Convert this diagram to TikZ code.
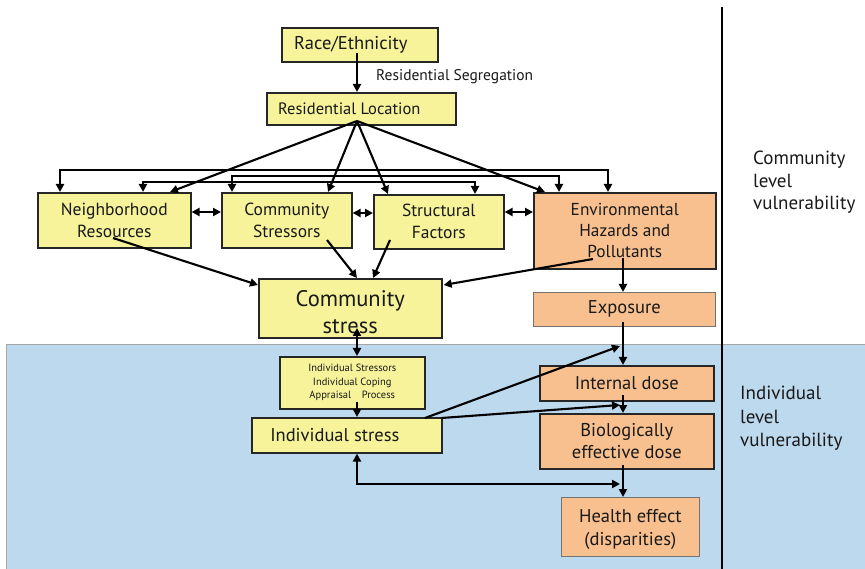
\documentclass[tikz,border=0pt]{standalone}
\usepackage{fontspec}
\setmainfont{PT Sans}
\usetikzlibrary{arrows.meta,calc}
\definecolor{ycol}{RGB}{247,243,154}
\definecolor{ocol}{RGB}{248,192,143}
\definecolor{bcol}{RGB}{189,217,238}
\definecolor{tcol}{RGB}{25,25,25}
\newcommand{\fs}[2]{\fontsize{#1}{#2}\selectfont}
\tikzset{
  box/.style={draw=black!85, line width=1.6pt, inner sep=0pt, align=center, anchor=north west, text=tcol},
  ybox/.style={box, fill=ycol},
  obox/.style={box, fill=ocol},
  othin/.style={box, fill=ocol, draw=black!55, line width=0.7pt},
  arr/.style={line width=2.1pt, -{Triangle[length=8pt,width=8pt]}},
  darr/.style={line width=2.1pt, {Triangle[length=8pt,width=8pt]}-{Triangle[length=8pt,width=8pt]}},
  lbl/.style={anchor=north west, align=left, inner sep=0pt, text=tcol},
  intext/.style={inner sep=0pt, align=center, text=tcol}
}
\begin{document}
\begin{tikzpicture}[x=1pt,y=-1pt]
\useasboundingbox (0,0) rectangle (865,569);
% background region
\fill[bcol] (6,345) rectangle (865,569);
\draw[black!35, line width=1pt] (6,569) -- (6,345) -- (865,345);
\draw[line width=1.6pt] (722,7) -- (722,569);

% boxes
\node[ybox, minimum width=156pt, minimum height=34pt, font=\fs{18.5}{22}] (race) at (281,27) {Race/Ethnicity\hspace{18pt}};
\node[lbl, font=\fs{15.5}{18}] (seg) at (376,69) {Residential Segregation};
\node[ybox, minimum width=189pt, minimum height=32pt, font=\fs{16.5}{20}] (resloc) at (266,92) {Residential Location\hspace{24pt}};
\node[ybox, minimum width=153pt, minimum height=55pt, font=\fs{17.5}{22}] (nbr) at (37,192) {Neighborhood\\Resources};
\node[ybox, minimum width=130pt, minimum height=55pt, font=\fs{17.5}{22}] (cstr) at (221,192) {Community\\Stressors};
\node[ybox, minimum width=130pt, minimum height=54pt, font=\fs{17.5}{22}] (sf) at (373,194) {Structural\\Factors};
\node[obox, minimum width=182pt, minimum height=76pt, font=\fs{17.3}{21}] (env) at (533,192) {Environmental\\Hazards and\\Pollutants};
\node[ybox, minimum width=183pt, minimum height=59pt] (cstress) at (258,278) {};
\node[intext, font=\fs{22.5}{27}] (cstresstext) at ($(cstress.center)+(0,4)$) {Community\\stress};
\node[othin, minimum width=182pt, minimum height=34pt, font=\fs{18.5}{22}] (expo) at (533,292) {Exposure};
\node[ybox, minimum width=145pt, minimum height=52pt, font=\fs{10.5}{13.5}] (indstr) at (279,356) {Individual Stressors\\Individual Coping\\Appraisal\quad Process};
\node[ybox, minimum width=190pt, minimum height=35pt, font=\fs{18.5}{22}] (indstress) at (251,417) {Individual stress\hspace{24pt}};
\node[obox, minimum width=174pt, minimum height=35pt, font=\fs{18.5}{22}] (intdose) at (539,365) {Internal dose};
\node[obox, minimum width=174pt, minimum height=55pt, font=\fs{18.5}{22}] (bio) at (539,413) {Biologically\\effective dose};
\node[othin, minimum width=138pt, minimum height=59pt] (health) at (561,497) {};
\node[intext, font=\fs{18.5}{23}] (healthtext) at ($(health.center)+(0,3)$) {Health effect\\(disparities)};

\node[lbl, font=\fs{19}{22.5}] (clab) at (753,151) {Community\\level\\vulnerability};
\node[lbl, font=\fs{19}{23.5}] (ilab) at (740,386) {Individual\\level\\vulnerability};

% connectors
\draw[arr] ($(race.north west)+(76,26)$) -- ($(resloc.north west)+(91,0)$);
\coordinate (hub) at ($(resloc.north west)+(91,29)$);
\draw[arr] (hub) -- ($(nbr.north west)+(133,0)$);
\draw[arr] (hub) -- ($(cstr.north west)+(107,0)$);
\draw[arr] (hub) -- ($(sf.north west)+(15,0)$);
\draw[arr] (hub) -- ($(env.north west)+(12,0)$);

\draw[darr] ($(nbr.north west)+(23,0)$) -- ++(0,-22) -| ($(env.north west)+(75,0)$);
\draw[darr] ($(cstr.north west)+(11,0)$) -- ++(0,-16) -| ($(env.north west)+(26,0)$);
\draw[darr] ($(nbr.north west)+(106,0)$) -- ++(0,-10) -| ($(sf.north west)+(102,0)$);

\draw[darr] ($(nbr.north east)+(0,20)$) -- ($(cstr.north west)+(0,20)$);
\draw[darr] ($(cstr.north east)+(0,21)$) -- ($(sf.north west)+(0,19)$);
\draw[darr] ($(sf.north east)+(0,18)$) -- ($(env.north west)+(0,20)$);

\draw[arr] ($(nbr.north west)+(76,46)$) -- ($(cstress.north west)+(0,7)$);
\draw[arr] ($(cstr.north west)+(106,48)$) -- ($(cstress.north west)+(99,0)$);
\draw[arr] ($(sf.north west)+(17,46)$) -- ($(cstress.north west)+(115,0)$);
\draw[arr] ($(env.north west)+(60,67)$) -- ($(cstress.north east)+(1,7)$);

\draw[arr] ($(env.north west)+(90,66)$) -- ($(expo.north west)+(90,0)$);
\draw[arr] ($(expo.north west)+(90,30)$) -- ($(intdose.north west)+(84,0)$);
\draw[arr] ($(intdose.north west)+(84,30)$) -- ($(bio.north west)+(84,0)$);
\draw[arr] ($(bio.north west)+(84,52)$) -- ($(health.north west)+(62,0)$);

\draw[darr] ($(cstress.north west)+(99,50)$) -- ($(indstr.north west)+(78,0)$);
\draw[arr] ($(indstr.north west)+(78,46)$) -- ($(indstress.north west)+(106,0)$);

\draw[arr] ($(indstress.north west)+(174,1)$) -- ($(intdose.north west)+(81,-19)$);
\draw[arr] ($(indstress.north east)+(-1,1)$) -- ($(bio.north west)+(81,-8)$);
\draw[darr] ($(indstress.south west)+(106,0)$) |- ($(health.north west)+(59,-13)$);
\end{tikzpicture}
\end{document}
